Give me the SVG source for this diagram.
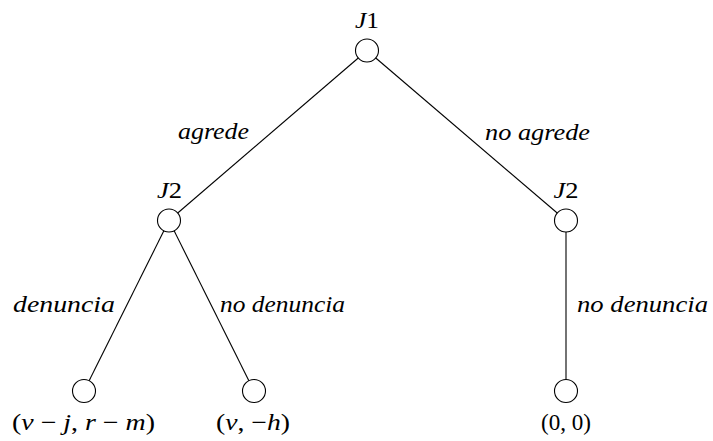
<svg xmlns="http://www.w3.org/2000/svg" width="713" height="441" viewBox="0 0 713 441">
<style>
.e{stroke:#000;stroke-width:1.1;fill:none}
.n{fill:#fff;stroke:#000;stroke-width:1.1}
text{font-family:'Liberation Serif','Times New Roman',serif;font-size:23px;fill:#000;text-anchor:middle}
.i{font-style:italic}
.u{font-style:normal}
</style>
<rect width="713" height="441" fill="#fff"/>
<g id="edges">
<line class="e" x1="367" y1="50.5" x2="169" y2="220.5"/>
<line class="e" x1="367" y1="50.5" x2="566" y2="220.5"/>
<line class="e" x1="169" y1="220.5" x2="84" y2="391"/>
<line class="e" x1="169" y1="220.5" x2="254" y2="391"/>
<line class="e" x1="566" y1="220.5" x2="566" y2="391"/>
<text class="i" x="213.5" y="139" textLength="71" lengthAdjust="spacingAndGlyphs">agrede</text>
<text class="i" x="537.5" y="140" textLength="105" lengthAdjust="spacingAndGlyphs">no agrede</text>
<text class="i" x="64" y="312" textLength="102" lengthAdjust="spacingAndGlyphs">denuncia</text>
<text class="i" x="282.5" y="312" textLength="125" lengthAdjust="spacingAndGlyphs">no denuncia</text>
<text class="i" x="642.5" y="312" textLength="131" lengthAdjust="spacingAndGlyphs">no denuncia</text>
</g>
<g id="j1">
<circle class="n" cx="367" cy="50.5" r="11.5"/>
<text class="i" x="367" y="28" textLength="24" lengthAdjust="spacingAndGlyphs">J<tspan class="u">1</tspan></text>
</g>
<g id="j2a">
<circle class="n" cx="169" cy="220.5" r="11.5"/>
<text class="i" x="169.5" y="198" textLength="25" lengthAdjust="spacingAndGlyphs">J<tspan class="u">2</tspan></text>
</g>
<g id="j2b">
<circle class="n" cx="566" cy="220.5" r="11.5"/>
<text class="i" x="566" y="198" textLength="25" lengthAdjust="spacingAndGlyphs">J<tspan class="u">2</tspan></text>
</g>
<g id="leaf1">
<circle class="n" cx="84" cy="391" r="11.5"/>
<text x="83.5" y="430" textLength="143" lengthAdjust="spacingAndGlyphs">(<tspan class="i">v</tspan> − <tspan class="i">j</tspan>, <tspan class="i">r</tspan> − <tspan class="i">m</tspan>)</text>
</g>
<g id="leaf2">
<circle class="n" cx="254" cy="391" r="11.5"/>
<text x="253" y="430" textLength="74" lengthAdjust="spacingAndGlyphs">(<tspan class="i">v</tspan>, −<tspan class="i">h</tspan>)</text>
</g>
<g id="leaf3">
<circle class="n" cx="566" cy="391" r="11.5"/>
<text x="566" y="430" textLength="50" lengthAdjust="spacingAndGlyphs">(0, 0)</text>
</g>
</svg>
